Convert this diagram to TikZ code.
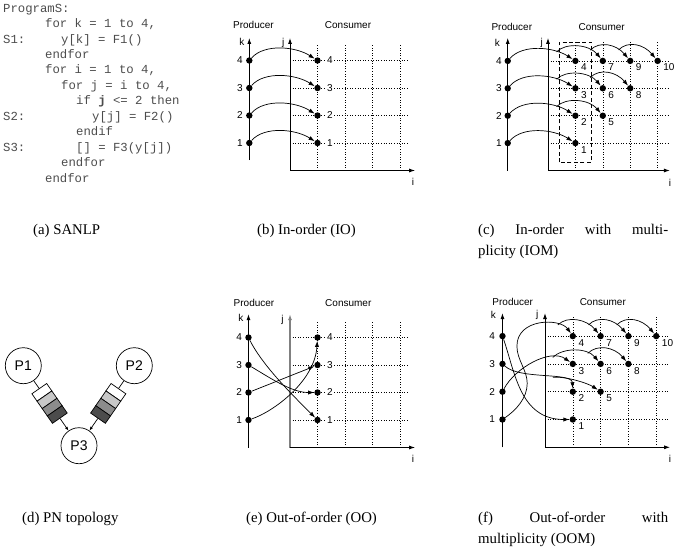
\documentclass[tikz,border=0pt]{standalone}
\usepackage{fontspec}
\setmainfont{Liberation Serif}
\newfontfamily\sansfont{Liberation Sans}
\newfontfamily\codefont{Liberation Mono}
\usetikzlibrary{arrows.meta,calc}

\definecolor{qlight}{gray}{0.78}
\definecolor{qmid}{gray}{0.55}
\definecolor{qdark}{gray}{0.30}

\tikzset{
  axisline/.style={line width=0.9pt,-{Latex[length=6pt,width=4pt]}},
  flow/.style={line width=0.7pt,-{Latex[length=6pt,width=4.2pt]}},
  gridline/.style={line width=0.6pt,dash pattern=on 0.7pt off 1.9pt},
  dot/.style={circle,fill,inner sep=0pt,minimum size=6.4pt},
  lbl/.style={font=\sansfont\fontsize{10}{12}\selectfont,inner sep=0pt},
  numlbl/.style={lbl,fill=white,inner xsep=1pt,inner ysep=0pt},
  captext/.style={font=\fontsize{14.8}{17}\selectfont,inner sep=0pt,anchor=base west},
  codeline/.style={font=\codefont\fontsize{12.3}{14}\selectfont,text=black!70,inner sep=0pt,anchor=base west},
  proc/.style={circle,draw,line width=0.7pt,minimum size=36pt,inner sep=0pt,font=\sansfont\fontsize{14}{16}\selectfont},
  cell/.style={draw,line width=0.7pt,minimum width=9pt,minimum height=18pt,inner sep=0pt},
  link/.style={line width=0.7pt},
  qarrow/.style={line width=0.7pt,-{Latex[length=4pt,width=3pt]}},
  window/.style={line width=0.8pt,dash pattern=on 4pt off 2.5pt},
}

\begin{document}
\begin{tikzpicture}[x=1pt,y=-1pt]
\useasboundingbox (0,0) rectangle (674,551);

% ---------- (a) program listing ----------
\node[codeline] (l0)  at (3,12.2)   {ProgramS:};
\node[codeline] (l1)  at (45,27.6)  {for k = 1 to 4,};
\node[codeline] (s1)  at (3,43.1)   {S1:};
\node[codeline] (l2)  at (61,43.1)  {y[k] = F1()};
\node[codeline] (l3)  at (45,58.5)  {endfor};
\node[codeline] (l4)  at (45,74.0)  {for i = 1 to 4,};
\node[codeline] (l5)  at (61,89.4)  {for j = i to 4,};
\node[codeline] (l6)  at (76,104.9) {if {\bfseries j} <= 2 then};
\node[codeline] (s2)  at (3,120.3)  {S2:};
\node[codeline] (l7)  at (92,120.3) {y[j] = F2()};
\node[codeline] (l8)  at (76,135.8) {endif};
\node[codeline] (s3)  at (3,151.2)  {S3:};
\node[codeline] (l9)  at (76,151.2) {[] = F3(y[j])};
\node[codeline] (l10) at (61,166.7) {endfor};
\node[codeline] (l11) at (45,182.1) {endfor};

% ---------- captions ----------
\node[captext] (capa)  at (33,234)  {(a) SANLP};
\node[captext] (capb)  at (257,234) {(b) In-order (IO)};
\node[captext] (capc)  at (478,234) {\makebox[190pt][s]{(c) In-order with multi-}};
\node[captext] (capc2) at (478,255) {plicity (IOM)};
\node[captext] (capd)  at (22,522)  {(d) PN topology};
\node[captext] (cape)  at (246,522) {(e) Out-of-order (OO)};
\node[captext] (capf)  at (478,522) {\makebox[190pt][s]{(f) Out-of-order with}};
\node[captext] (capf2) at (478,543) {multiplicity (OOM)};

% ---------- (d) process network ----------
\node[proc] (p1) at (23.3,365.7) {P1};
\node[proc] (p2) at (134.3,365.7) {P2};
\node[proc] (p3) at (79,445.7) {P3};
\foreach \t/\c/\n in {0.333/white/1,0.426/qlight/2,0.518/qmid/3,0.610/qdark/4}{
  \node[cell,fill=\c,rotate=-55.2] (qa\n) at ($(p1)!\t!(p3)$) {};
  \node[cell,fill=\c,rotate=235.2] (qb\n) at ($(p2)!\t!(p3)$) {};
}
\draw[link] (p1) -- (qa1.west);
\draw[link] (p2) -- (qb1.west);
\draw[qarrow] (qa4.east) -- (p3);
\draw[qarrow] (qb4.east) -- (p3);

% ---------- (b) in-order ----------
\begin{scope}[shift={(290,170.5)},x=27.5pt,y=27.5pt]
  \foreach \i in {1,...,4} \draw[gridline] (\i,0) -- (\i,4.6);
  \foreach \j in {1,...,4} \draw[gridline] (0,\j) -- (4.3,\j);
  \draw[axisline] (-1.48,0.38) -- (-1.48,4.82);
  \draw[axisline] (0,0) -- (0,4.82);
  \draw[axisline] (0,0) -- (4.55,0);
  \node[lbl] (bprod) at (-1.33,5.29) {Producer};
  \node[lbl] (bcons) at (2.11,5.29) {Consumer};
  \node[lbl] (bkax) at (-1.75,4.67) {k};
  \node[lbl] (bjax) at (-0.25,4.64) {j};
  \node[lbl] (biax) at (4.47,-0.43) {i};
  \foreach \k in {1,...,4}{
    \node[dot] (bk\k) at (-1.48,\k) {};
    \node[lbl] (bkl\k) at (-1.82,\k) {\k};
    \node[dot] (bc\k) at (1,\k) {};
    \node[numlbl] (bcl\k) at (1.45,\k) {\k};
    \draw[flow] (bk\k) .. controls +(0.55,0.62) and +(-0.8,0.51) .. (bc\k);
  }
\end{scope}

% ---------- (c) in-order with multiplicity ----------
\begin{scope}[shift={(548,170.5)},x=27.4pt,y=27.4pt]
  \foreach \i in {1,...,4} \draw[gridline] (\i,0) -- (\i,4.68);
  \foreach \j in {1,...,4} \draw[gridline] (0,\j) -- (4.4,\j);
  \draw[window] (0.41,0.3) rectangle (1.59,4.68);
  \draw[axisline] (-1.47,0) -- (-1.47,4.84);
  \draw[axisline] (0,0) -- (0,4.84);
  \draw[axisline] (0,0) -- (4.45,0);
  \node[lbl] (cprod) at (-1.32,5.24) {Producer};
  \node[lbl] (ccons) at (1.96,5.24) {Consumer};
  \node[lbl] (ckax) at (-1.85,4.64) {k};
  \node[lbl] (cjax) at (-0.23,4.64) {j};
  \node[lbl] (ciax) at (4.45,-0.45) {i};
  \foreach \k in {1,...,4}{
    \node[dot] (ck\k) at (-1.47,\k) {};
    \node[lbl] (ckl\k) at (-1.79,\k) {\k};
  }
  \foreach \i/\j/\n in {1/1/1,1/2/2,1/3/3,1/4/4,2/2/5,2/3/6,2/4/7,3/3/8,3/4/9,4/4/10}{
    \node[dot] (cc\i-\j) at (\i,\j) {};
    \node[lbl,anchor=west] (ccl\n) at (\i+0.2,\j-0.24) {\n};
  }
  \foreach \k in {1,...,4}
    \draw[flow] (ck\k) .. controls +(0.55,0.62) and +(-0.8,0.51) .. (cc1-\k) coordinate[pos=0.75] (ca1-\k);
  \foreach \a/\b/\j in {1/2/2,1/2/3,2/3/3,1/2/4,2/3/4,3/4/4}
    \draw[flow] (ca\a-\j) .. controls +(0.35,0.35) and +(-0.5,0.6) .. (cc\b-\j) coordinate[pos=0.75] (ca\b-\j);
\end{scope}

% ---------- (e) out-of-order ----------
\begin{scope}[shift={(290,447.5)},x=27.5pt,y=27.5pt]
  \foreach \i in {1,...,4} \draw[gridline] (\i,0) -- (\i,4.6);
  \foreach \j in {1,...,4} \draw[gridline] (0,\j) -- (4.3,\j);
  \draw[axisline] (-1.51,0) -- (-1.51,4.85);
  \draw[axisline,draw=black!50,fill=black!50,line width=1.4pt] (0,0) -- (0,4.85);
  \draw[axisline] (0,0) -- (4.55,0);
  \node[lbl] (eprod) at (-1.31,5.24) {Producer};
  \node[lbl] (econs) at (2.12,5.24) {Consumer};
  \node[lbl] (ekax) at (-1.79,4.7) {k};
  \node[lbl] (ejax) at (-0.27,4.64) {j};
  \node[lbl] (eiax) at (4.47,-0.42) {i};
  \foreach \k in {1,...,4}{
    \node[dot] (ek\k) at (-1.51,\k) {};
    \node[lbl] (ekl\k) at (-1.85,\k) {\k};
    \node[dot] (ec\k) at (1,\k) {};
    \node[numlbl] (ecl\k) at (1.45,\k) {\k};
  }
  \draw[flow] (ek4) .. controls +(0.55,-1.09) and +(-0.73,0.73) .. (ec1);
  \draw[flow] (ek3) .. controls +(0.91,-0.55) and +(-0.91,0) .. (ec2);
  \draw[flow] (ek2) -- (ec3);
  \draw[flow] (ek1) .. controls +(0.9,0.3) and +(-0.1,-1.6) .. (ec4);
\end{scope}

% ---------- (f) out-of-order with multiplicity ----------
\begin{scope}[shift={(545,447.3)},x=27.8pt,y=27.8pt]
  \foreach \i in {1,...,4} \draw[gridline] (\i,0) -- (\i,4.68);
  \foreach \j in {1,...,4} \draw[gridline] (0,\j) -- (4.4,\j);
  \draw[axisline] (-1.53,0) -- (-1.53,4.83);
  \draw[axisline] (0,0) -- (0,4.83);
  \draw[axisline] (0,0) -- (4.5,0);
  \node[lbl] (fprod) at (-1.16,5.24) {Producer};
  \node[lbl] (fcons) at (2.08,5.24) {Consumer};
  \node[lbl] (fkax) at (-1.86,4.76) {k};
  \node[lbl] (fjax) at (-0.28,4.76) {j};
  \node[lbl] (fiax) at (4.5,-0.4) {i};
  \foreach \k in {1,...,4}{
    \node[dot] (fk\k) at (-1.53,\k) {};
    \node[lbl] (fkl\k) at (-1.9,\k) {\k};
  }
  \foreach \i/\j/\n in {1/1/1,1/2/2,1/3/3,1/4/4,2/2/5,2/3/6,2/4/7,3/3/8,3/4/9,4/4/10}{
    \node[dot] (fc\i-\j) at (\i,\j) {};
    \node[lbl,anchor=west] (fcl\n) at (\i+0.2,\j-0.24) {\n};
  }
  \draw[flow] (fk4) .. controls (-1.08,2.71) and (-0.9,1.0) .. (fc1-1);
  \draw[flow] (fk3) .. controls (-0.9,2.43) and (0.97,2.71) .. (fc1-2) coordinate[pos=0.6] (fa1-2);
  \draw[flow] (fk2) .. controls (-1.08,2.85) and (0.18,3.57) .. (fc1-3) coordinate[pos=0.75] (fa1-3);
  \draw[flow] (fk1) .. controls (-1.04,1.34) and (-0.64,1.77) .. (-0.64,2.30)
                    .. controls (-0.64,2.78) and (-1.01,3.14) .. (-1.01,3.64)
                    .. controls (-1.01,4.65) and (0.54,4.65) .. (fc1-4) coordinate[pos=0.75] (fa1-4);
  \draw[flow] (fa1-2) .. controls +(0.45,0.05) and +(-0.45,0.3) .. (fc2-2);
  \foreach \a/\b/\j in {1/2/3,2/3/3,1/2/4,2/3/4,3/4/4}
    \draw[flow] (fa\a-\j) .. controls +(0.35,0.35) and +(-0.5,0.6) .. (fc\b-\j) coordinate[pos=0.75] (fa\b-\j);
\end{scope}
\end{tikzpicture}
\end{document}
